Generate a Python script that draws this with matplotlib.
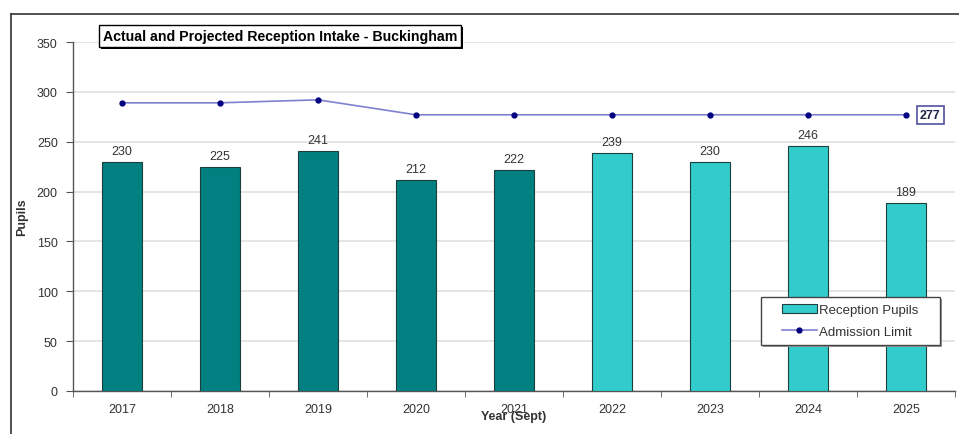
import numpy as np
import matplotlib.pyplot as plt
from matplotlib.patches import Rectangle
from matplotlib.lines import Line2D

years = ['2017', '2018', '2019', '2020', '2021', '2022', '2023', '2024', '2025']
pupils = [230, 225, 241, 212, 222, 239, 230, 246, 189]
admission = [289, 289, 292, 277, 277, 277, 277, 277, 277]
n_actual = 5  # 2017-2021 actual, rest projected

dark_teal = '#008080'
light_teal = '#33CCCC'
text_col = '#333333'

plt.rcParams['font.family'] = ['Liberation Sans', 'DejaVu Sans']

fig = plt.figure(figsize=(9.59, 4.35), dpi=100)
W, H = 959, 435
ax = fig.add_axes([73 / W, (H - 392) / H, (955 - 73) / W, (392 - 43) / H])

# outer chart frame (top and left visible)
fig.add_artist(Line2D([11 / W, 1], [1 - 15 / H, 1 - 15 / H], transform=fig.transFigure, color='#333333', lw=1.2))
fig.add_artist(Line2D([11 / W, 11 / W], [0, 1 - 15 / H], transform=fig.transFigure, color='#333333', lw=1.2))

x = np.arange(len(years))
colors = [dark_teal if i < n_actual else light_teal for i in range(len(years))]
bars = ax.bar(x, pupils, width=0.41, color=colors, edgecolor='#1f3f3f', linewidth=0.8, zorder=3)
for xi, v in zip(x, pupils):
    ax.text(xi, v + 5, str(v), ha='center', va='bottom', fontsize=9, color=text_col, zorder=5)

ax.plot(x, admission, color='#8080D0', lw=1.2, marker='o', markersize=3.5,
        markerfacecolor='#000080', markeredgecolor='#000080', zorder=4)
ax.annotate(str(admission[-1]), (x[-1], admission[-1]), xytext=(10, 0), textcoords='offset points',
            ha='left', va='center', fontsize=9, fontweight='bold', color='#222244',
            bbox=dict(boxstyle='square,pad=0.25', fc='white', ec='#5050A0', lw=1.2), zorder=6)

ax.set_xlim(-0.5, len(years) - 0.5)
ax.set_ylim(0, 350)
ax.set_yticks(np.arange(0, 351, 50))
ax.yaxis.grid(True, color='#e0e0e0', lw=1.2, zorder=0)
ax.set_axisbelow(True)

ax.set_xticks(x)
ax.set_xticklabels(years)
ax.set_xticks(np.arange(-0.5, len(years), 1), minor=True)
ax.tick_params(axis='x', which='major', length=0, pad=9, labelsize=9, labelcolor=text_col)
ax.tick_params(axis='x', which='minor', length=4, color='#555555')
ax.tick_params(axis='y', length=5, color='#555555', labelsize=9, labelcolor=text_col, pad=6)

for s in ['top', 'right']:
    ax.spines[s].set_visible(False)
for s in ['left', 'bottom']:
    ax.spines[s].set_color('#555555')
    ax.spines[s].set_linewidth(1.0)

ax.set_ylabel('Pupils', fontsize=9, fontweight='bold', color=text_col, labelpad=6)
# in the original the axis title sits partly over the 2021 label
ax.set_xlabel('Year (Sept)', fontsize=9, fontweight='bold', color=text_col, labelpad=-4)

# title box, shadow drawn as a patch behind it
ttl = fig.text(103 / W, 1 - 37 / H, 'Actual and Projected Reception Intake - Buckingham',
               fontsize=10.2, fontweight='bold', color='black', ha='left', va='center', zorder=6,
               bbox=dict(boxstyle='square,pad=0.25', fc='white', ec='black', lw=1.0))
fig.canvas.draw()
bb = ttl.get_bbox_patch().get_window_extent()
fig.add_artist(Rectangle(((bb.x0 + 2) / W, (bb.y0 - 2) / H), bb.width / W, bb.height / H,
                         transform=fig.transFigure, fc='black', ec='none', zorder=5))

# legend: frame drawn separately so it can be wider than its contents
lx0, lx1, ly0, ly1 = 761, 940, 298, 346
fig.add_artist(Rectangle((lx0 / W + 2 / W, (H - ly1 - 2) / H), (lx1 - lx0) / W, (ly1 - ly0) / H,
                         transform=fig.transFigure, fc='#999999', ec='none', zorder=9))
fig.add_artist(Rectangle((lx0 / W, (H - ly1) / H), (lx1 - lx0) / W, (ly1 - ly0) / H,
                         transform=fig.transFigure, fc='white', ec='#444444', lw=1.0, zorder=9))
handles = [Rectangle((0, 0), 1, 1, fc=light_teal, ec='#1f3f3f', lw=0.8),
           Line2D([], [], color='#8080D0', lw=1.2, marker='o', markersize=3.5,
                  markerfacecolor='#000080', markeredgecolor='#000080')]
leg = fig.legend(handles, ['Reception Pupils', 'Admission Limit'], loc='center',
                 bbox_to_anchor=((lx0 + lx1) / 2 / W, (H - (ly0 + ly1) / 2) / H),
                 fontsize=9.5, frameon=False, handlelength=2.6, handletextpad=0.2,
                 borderpad=0.3, labelspacing=0.7)
leg.set_zorder(10)
for t in leg.get_texts():
    t.set_color(text_col)

fig.savefig('out.png', dpi=100)
